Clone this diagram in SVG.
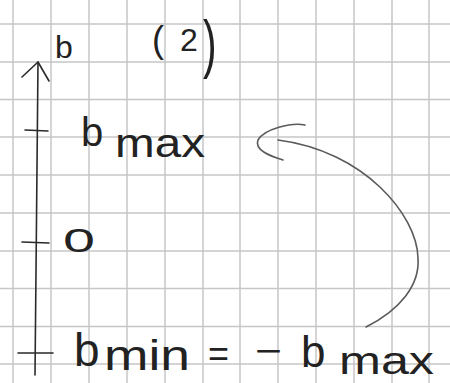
<svg xmlns="http://www.w3.org/2000/svg" width="450" height="383" viewBox="0 0 450 383">
<style>
.grid line{stroke:#c6c6c6;stroke-width:1.5}
.ink{fill:none;stroke:#2a2a2a;stroke-width:1.6;stroke-linecap:round;stroke-linejoin:round}
.pencil{fill:none;stroke:#5a5a5a;stroke-width:1.6;stroke-linecap:round;stroke-linejoin:round}
text{font-family:"Liberation Sans","DejaVu Sans",sans-serif;fill:#222}
</style>
<rect width="450" height="383" fill="#ffffff"/>
<g class="grid" id="grid">
<line x1="13" y1="0" x2="13" y2="383"/>
<line x1="51" y1="0" x2="51" y2="383"/>
<line x1="89" y1="0" x2="89" y2="383"/>
<line x1="127" y1="0" x2="127" y2="383"/>
<line x1="165" y1="0" x2="165" y2="383"/>
<line x1="203" y1="0" x2="203" y2="383"/>
<line x1="240" y1="0" x2="240" y2="383"/>
<line x1="278" y1="0" x2="278" y2="383"/>
<line x1="316" y1="0" x2="316" y2="383"/>
<line x1="354" y1="0" x2="354" y2="383"/>
<line x1="392" y1="0" x2="392" y2="383"/>
<line x1="429" y1="0" x2="429" y2="383"/>
<line x1="0" y1="24" x2="450" y2="24"/>
<line x1="0" y1="62" x2="450" y2="62"/>
<line x1="0" y1="99.5" x2="450" y2="99.5"/>
<line x1="0" y1="137" x2="450" y2="137"/>
<line x1="0" y1="175" x2="450" y2="175"/>
<line x1="0" y1="213" x2="450" y2="213"/>
<line x1="0" y1="251" x2="450" y2="251"/>
<line x1="0" y1="288.5" x2="450" y2="288.5"/>
<line x1="0" y1="326.5" x2="450" y2="326.5"/>
<line x1="0" y1="364" x2="450" y2="364"/>
</g>
<g id="axis">
<path class="ink" d="M38,62 L36.5,220 L35,375"/>
<path class="ink" d="M22,77 L38,62 L49,81"/>
<path class="ink" d="M25,130 L48,131"/>
<path class="ink" d="M22,242 L49,243"/>
<path class="ink" d="M18,353 L53,353"/>
<text x="55" y="58" font-size="32">b</text>
</g>
<g id="title">
<text x="152" y="52" font-size="36">(</text>
<text x="180" y="51" font-size="32">2</text>
<text transform="translate(203,66) scale(1.2,1.9)" font-size="34">)</text>
</g>
<g id="bmax">
<text x="81" y="146" font-size="40">b</text>
<text x="115" y="157" font-size="40" textLength="90" lengthAdjust="spacingAndGlyphs">max</text>
</g>
<g id="zero">
<text x="63" y="252" font-size="33" textLength="32" lengthAdjust="spacingAndGlyphs">0</text>
</g>
<g id="bmin">
<text x="74" y="366" font-size="46">b</text>
<text x="104" y="370" font-size="43" textLength="86" lengthAdjust="spacingAndGlyphs">min</text>
<text x="208" y="366" font-size="36" textLength="21" lengthAdjust="spacingAndGlyphs">=</text>
<text x="255" y="363" font-size="36" textLength="27" lengthAdjust="spacingAndGlyphs">−</text>
<text x="301" y="367" font-size="44">b</text>
<text x="339" y="374" font-size="38" textLength="95" lengthAdjust="spacingAndGlyphs">max</text>
</g>
<g id="connectors">
<path class="pencil" d="M366,327 C400,310 420,285 418,258 C417,215 364,151 278,140"/>
<path class="pencil" d="M305,125 C292,122 264,129 258,140 C254,150 270,156 283,160"/>
</g>
</svg>
